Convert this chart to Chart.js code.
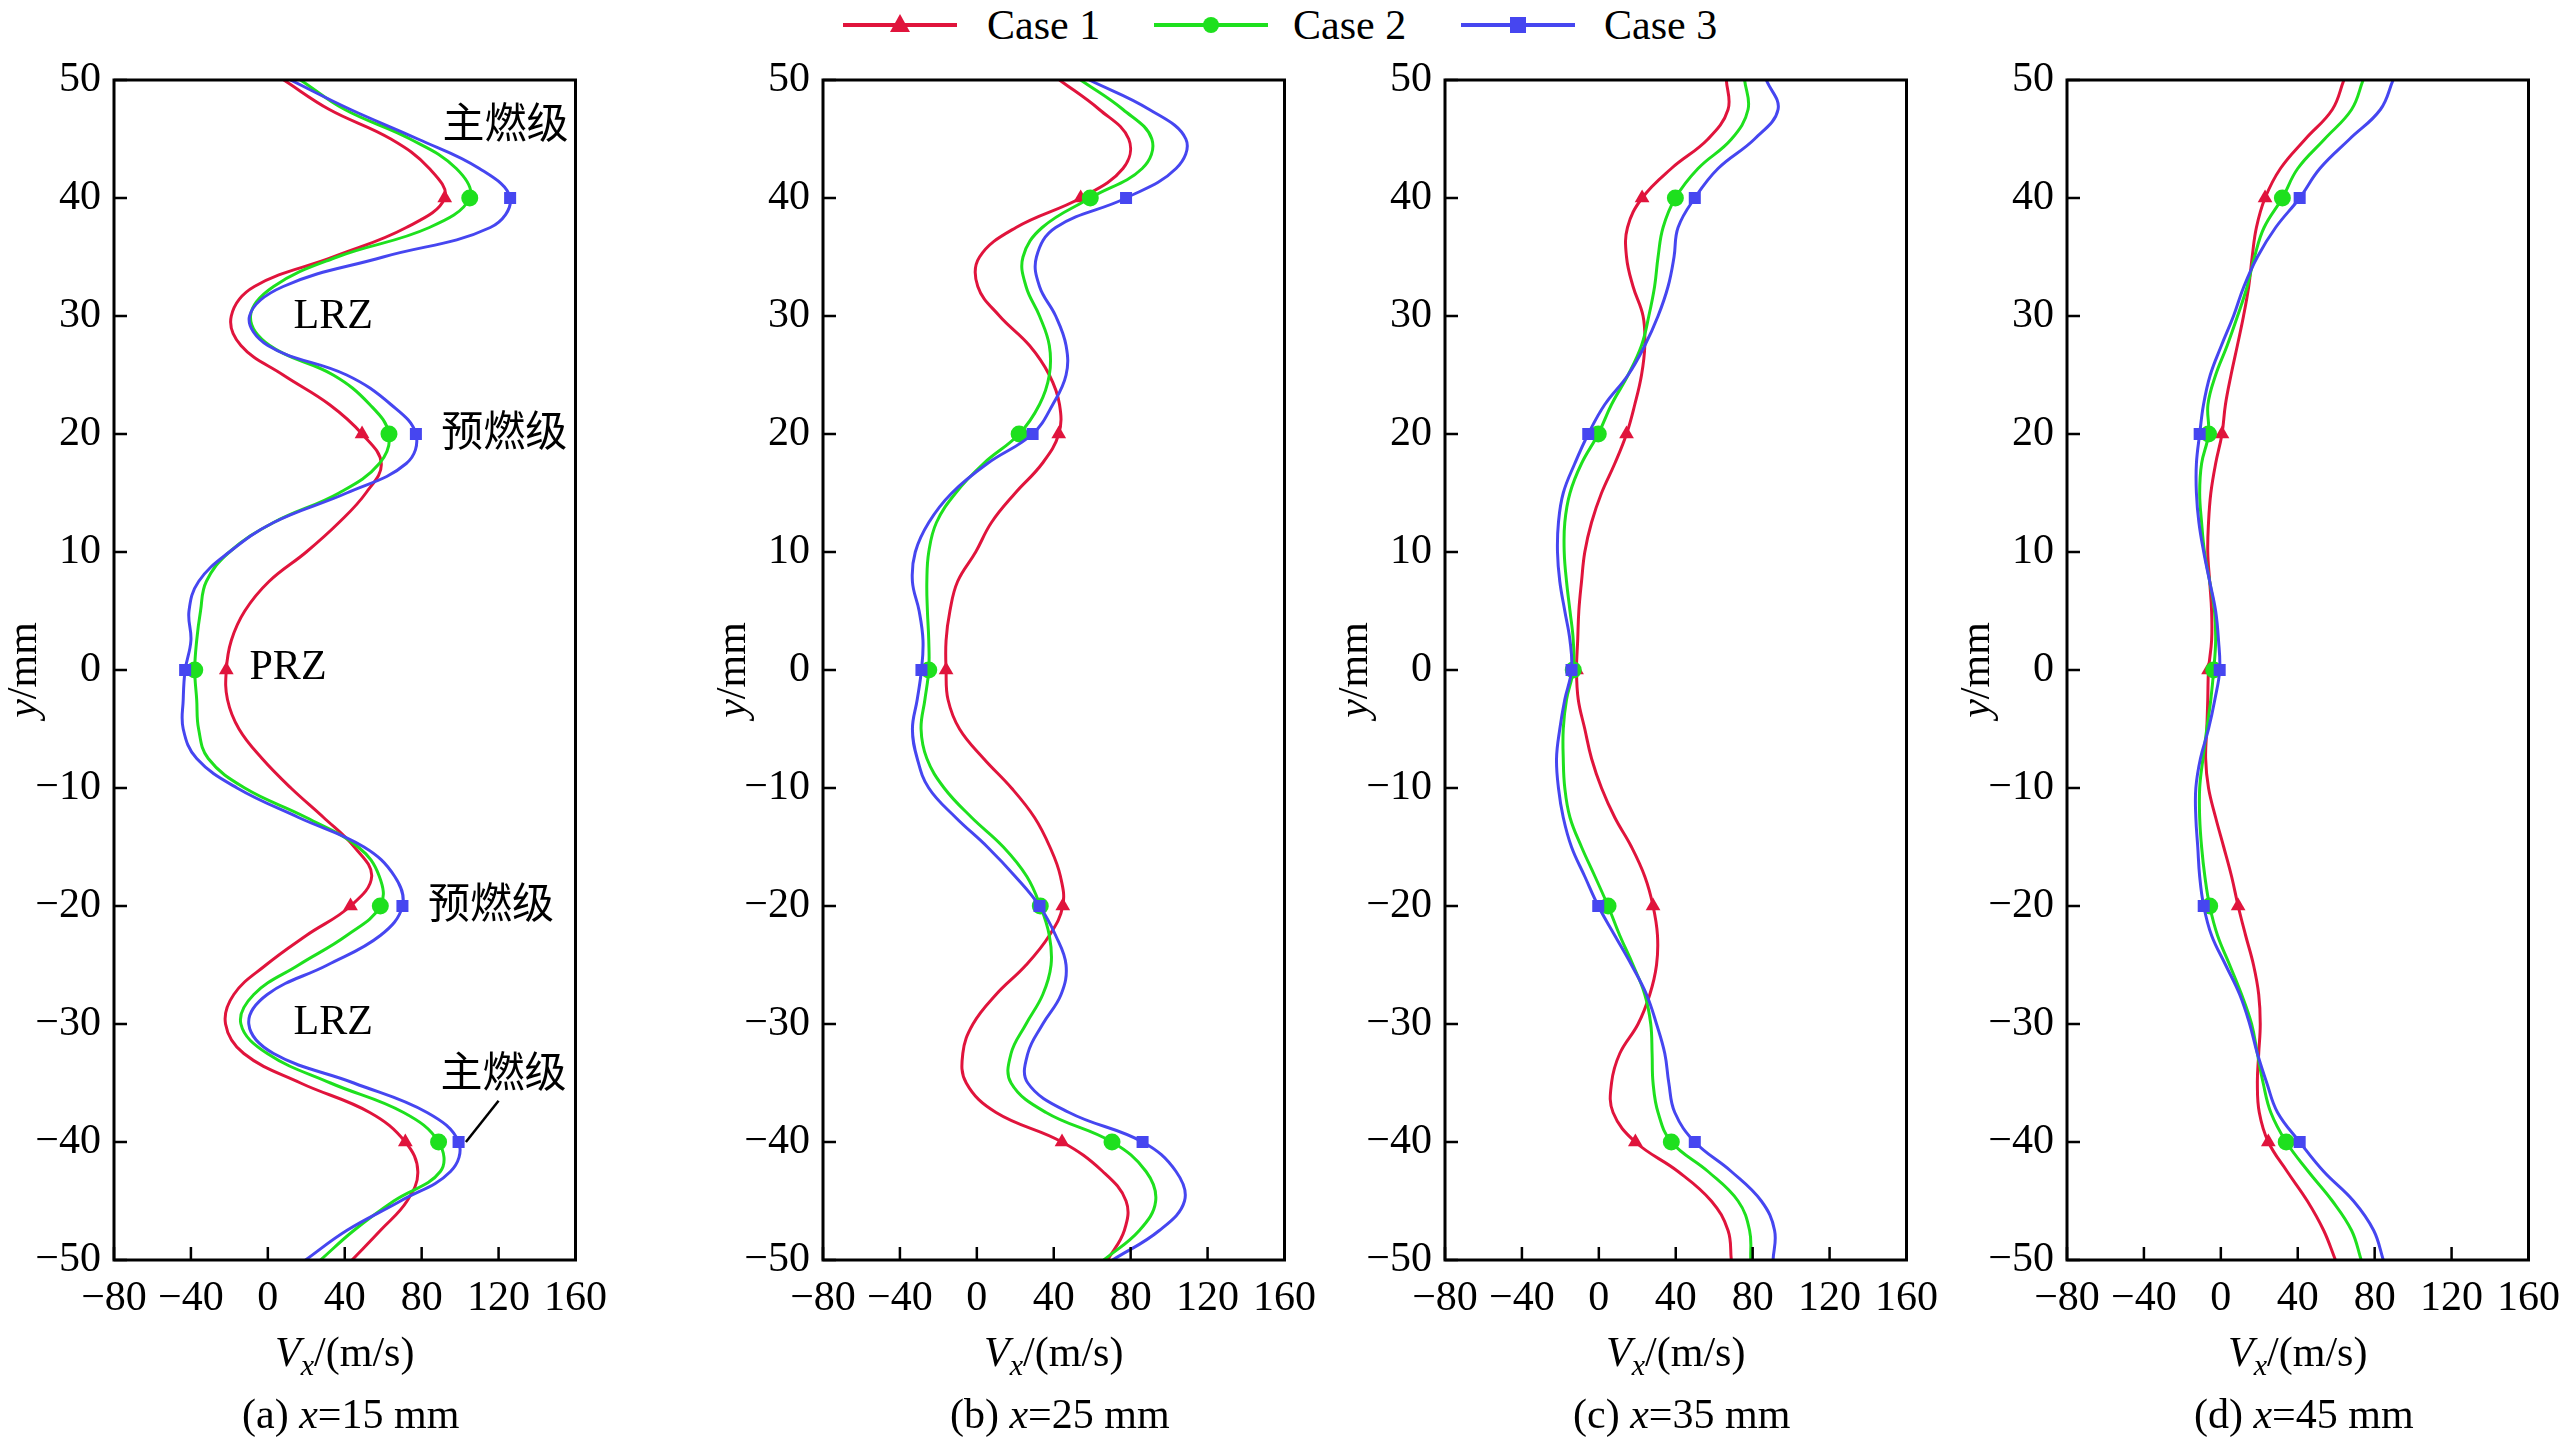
<!DOCTYPE html>
<html>
<head>
<meta charset="utf-8">
<script src="https://cdn.jsdelivr.net/npm/chart.js@4.4.1/dist/chart.umd.min.js"></script>
<style>
  html, body { margin: 0; padding: 0; background: #fff; }
  body { width: 2566px; height: 1448px; position: relative; overflow: hidden;
         font-family: "Liberation Serif", serif; }
  .panel { position: absolute; top: 0; width: 617px; height: 1448px; }
  .lg-line { position: absolute; top: 23px; width: 114px; height: 4px; }
  .lg-mark { position: absolute; }
  .lg-text { position: absolute; top: 2px; font-size: 42px; line-height: 46px; color: #000; }
</style>
</head>
<body>
<div class="lg-line" style="left:843px;background:#e0143c"></div>
<div class="lg-mark" style="left:890px;top:14px;width:20px;height:18px;background:#e0143c;clip-path:polygon(50% 0,100% 100%,0 100%)"></div>
<div class="lg-text" style="left:987px">Case 1</div>
<div class="lg-line" style="left:1154px;background:#1ee01e"></div>
<div class="lg-mark" style="left:1203px;top:17px;width:16px;height:16px;border-radius:50%;background:#1ee01e"></div>
<div class="lg-text" style="left:1293px">Case 2</div>
<div class="lg-line" style="left:1461px;background:#4646f0"></div>
<div class="lg-mark" style="left:1510px;top:17px;width:16px;height:16px;background:#4646f0"></div>
<div class="lg-text" style="left:1604px">Case 3</div>

<div class="panel" style="left:4px"><canvas id="ca"></canvas></div>
<div class="panel" style="left:713px"><canvas id="cb"></canvas></div>
<div class="panel" style="left:1335px"><canvas id="cc"></canvas></div>
<div class="panel" style="left:1957px"><canvas id="cd"></canvas></div>

<script>
// y positions (mm) shared by all profiles
const yPos = [50, 47.5, 45, 42.5, 40, 37.5, 35, 32.5, 30, 27.5, 25, 22.5, 20, 17.5, 15, 12.5, 10, 7.5, 5, 2.5,
  0, -2.5, -5, -7.5, -10, -12.5, -15, -17.5, -20, -22.5, -25, -27.5, -30, -32.5, -35, -37.5, -40, -42.5, -45, -47.5, -50];
const markerY = [40, 20, 0, -20, -40];
const xTicks = [-80, -40, 0, 40, 80, 120, 160];
const yTicks = [50, 40, 30, 20, 10, 0, -10, -20, -30, -40, -50];
const caseNames = ["Case 1", "Case 2", "Case 3"];

// Vx (m/s) at x = 15 mm
const vxA1 = [8.3, 32, 64, 84, 92, 72, 34, -7, -19, -14, 8, 32, 49, 59, 51, 37, 20, 0.6, -12, -19, -21.6, -21, -15, -3, 12, 29, 45, 54, 43, 20, -1, -17.7, -22, -12.5, 17, 53, 71.5, 78, 72.4, 58.5, 43.8];
const vxA2 = [17, 40, 74, 98, 105, 84, 36, 3, -9, 1, 34, 53, 63, 58, 37, 3, -20, -32, -35, -37, -38, -37, -36, -31, -12, 20, 47, 58, 58.5, 41, 16, -7.3, -14, -0.3, 32.6, 70.6, 88.8, 89.7, 65.5, 44.7, 27.4];
const vxA3 = [11.8, 43, 78, 110, 126, 115.7, 60, 8, -9.5, 0, 41, 64, 77, 72, 41, 3, -20, -36, -41, -40, -43, -44, -44, -37, -16, 16, 50, 66, 70, 58.5, 31, -0.3, -9.9, 3, 44.7, 82.8, 99.2, 95, 69, 41, 19.6];
// x = 25 mm
const vxB1 = [43, 63.7, 79, 76, 54, 20.4, 1.4, 0.5, 11.8, 27.4, 37.7, 43, 42.6, 34, 20, 7.6, -0.6, -10, -14, -16, -16, -15, -9, 3.5, 18, 30, 38, 43.5, 44.7, 37.7, 25.6, 10, -2, -7.3, -5.5, 10, 44.3, 65.5, 77.6, 76.7, 68];
const vxB2 = [54, 76, 91, 86, 59, 34, 24, 25.6, 32.6, 37.7, 37.7, 32.6, 22, 3.5, -11, -21, -25, -26, -25.7, -25, -25, -27, -29, -26, -17, -2.7, 13.8, 26, 33, 37.7, 38.6, 34.3, 25.6, 17.8, 17.8, 36, 70.3, 88, 93, 84.5, 66];
const vxB3 = [58.5, 89.7, 108.7, 103.6, 77.6, 41, 31, 32.6, 41, 46.4, 46.4, 39.5, 29, 5.5, -13, -25, -32, -33.5, -30, -28, -28.8, -31, -33.5, -31, -25, -11, 5.5, 20, 32.6, 41, 46.4, 43.8, 34.3, 26.5, 26.5, 48, 86.2, 103.6, 108, 94.9, 70.6];
// x = 35 mm
const vxC1 = [66.3, 67.2, 56.8, 37.7, 22.5, 14.9, 14.4, 17.8, 23, 23.9, 22.2, 18.7, 14.4, 8.3, 1.4, -3.8, -7.3, -9, -10.4, -11, -11.6, -10.7, -7.3, -3.8, 1.4, 8.3, 17, 23.9, 28.2, 30.5, 30, 26.5, 20.4, 10.9, 6.6, 7.4, 19, 41.2, 58.5, 67.2, 68.9];
const vxC2 = [75.8, 77.6, 69, 51.6, 39.8, 33.4, 30.8, 29, 26, 22.2, 15.2, 6.6, -0.3, -9, -15, -17.7, -18, -16.8, -15, -13.3, -13.3, -16.8, -18.5, -18.5, -17.7, -15, -9, -2, 4.8, 10.9, 17.8, 23.9, 27, 27.7, 28.2, 30.8, 37.7, 56.8, 72.4, 78.4, 79];
const vxC3 = [87.1, 93.2, 81, 62, 49.9, 41.2, 39.1, 36, 30.8, 23.9, 15.2, 3.1, -5.5, -12.5, -18.5, -21, -21.5, -20.3, -17.7, -15, -14.2, -17.7, -20.3, -22, -21, -18.5, -14.2, -7.3, -0.3, 8.3, 17, 24.8, 30, 34.3, 36.4, 39.5, 49.9, 68.9, 84.5, 91.4, 90.6];
// x = 45 mm
const vxD1 = [64, 58, 44, 31, 23, 18.5, 16.3, 14.5, 11.8, 8.6, 5.3, 2.4, 0.6, -2.7, -5.2, -6.4, -6.8, -5.8, -4.8, -4.8, -6.4, -6.8, -7.3, -7.9, -6.4, -2.7, 1.5, 5.6, 9, 12.9, 17, 19.7, 20.5, 19.7, 19, 20, 24.7, 34.5, 45, 53.5, 59.6];
const vxD2 = [74, 68, 54, 40, 32, 22.5, 17.5, 13.7, 8.7, 3.3, -2.7, -6.7, -6.4, -10, -11, -10, -8.5, -5.8, -3.3, -2.7, -3.7, -5.2, -7.3, -9.3, -11, -11, -10, -8.3, -5.8, -1.7, 4.6, 10.8, 16, 19, 22, 26, 34, 45.5, 58, 68, 73];
const vxD3 = [89.6, 83, 67, 51.5, 41, 28.5, 19, 12, 6.6, 0.3, -5.5, -9, -11, -12.7, -12.7, -11.4, -8.9, -5.8, -2.7, -1.2, -0.6, -3.1, -6.4, -10.6, -13, -13, -12, -11, -8.9, -4.8, 2.5, 9.8, 15, 19, 23.9, 29.5, 41, 53.5, 69, 79.5, 84.5];

const colors = ["#e0143c", "#1ee01e", "#4646f0"];
const styles = ["triangle", "circle", "rect"];
const SERIF = "'Liberation Serif', serif";
const CJK = "'Noto Sans CJK SC', sans-serif";
Chart.defaults.font.family = SERIF;

function minus(v) { return String(v).replace("-", "\u2212"); }

// draws text pieces [style, text, size, dy] centred on cx
function drawRuns(ctx, runs, cx, y) {
  let total = 0;
  runs.forEach(r => { ctx.font = `${r[0]} ${r[2]}px ${SERIF}`; total += ctx.measureText(r[1]).width; });
  let x = cx - total / 2;
  ctx.textAlign = "left";
  ctx.textBaseline = "alphabetic";
  runs.forEach(r => {
    ctx.font = `${r[0]} ${r[2]}px ${SERIF}`;
    ctx.fillText(r[1], x, y + r[3]);
    x += ctx.measureText(r[1]).width;
  });
}

const notesA = [
  { t: "主燃级", x: 123.6, y: 46.4, cjk: true },
  { t: "LRZ", x: 34, y: 29.9 },
  { t: "预燃级", x: 123, y: 20.3, cjk: true },
  { t: "PRZ", x: 10.5, y: 0.2 },
  { t: "预燃级", x: 116, y: -19.7, cjk: true },
  { t: "LRZ", x: 34, y: -29.9 },
  { t: "主燃级", x: 122.6, y: -34, cjk: true }
];
const leaderA = [[120, -36.5], [103, -40]];

function framePlugin(label, notes, leader) {
  return {
    id: "frame",
    afterDraw(chart) {
      const { ctx, chartArea: a, scales: { x, y } } = chart;
      ctx.save();
      ctx.strokeStyle = "#000";
      ctx.fillStyle = "#000";
      ctx.lineWidth = 3;
      ctx.strokeRect(a.left, a.top, a.right - a.left, a.bottom - a.top);
      ctx.lineWidth = 2.5;
      ctx.beginPath();
      yTicks.forEach(v => { const p = y.getPixelForValue(v); ctx.moveTo(a.left, p); ctx.lineTo(a.left + 13, p); });
      xTicks.forEach(v => { const p = x.getPixelForValue(v); ctx.moveTo(p, a.bottom); ctx.lineTo(p, a.bottom - 13); });
      ctx.stroke();

      const cx = (a.left + a.right) / 2;
      drawRuns(ctx, [["italic", "V", 42, 0], ["italic", "x", 30, 9], ["normal", "/(m/s)", 42, 0]], cx, 1366);
      drawRuns(ctx, [["normal", label[0], 42, 0], ["italic", "x", 42, 0], ["normal", label[1], 42, 0]], cx + 6, 1428);

      ctx.save();
      ctx.translate(a.left - 78, (a.top + a.bottom) / 2);
      ctx.rotate(-Math.PI / 2);
      drawRuns(ctx, [["italic", "y", 42, 0], ["normal", "/mm", 42, 0]], 0, 0);
      ctx.restore();

      ctx.textAlign = "center";
      ctx.textBaseline = "middle";
      notes.forEach(n => {
        ctx.font = n.cjk ? `42px ${CJK}` : `42px ${SERIF}`;
        ctx.fillText(n.t, x.getPixelForValue(n.x), y.getPixelForValue(n.y));
      });
      if (leader) {
        ctx.lineWidth = 2.5;
        ctx.beginPath();
        ctx.moveTo(x.getPixelForValue(leader[0][0]), y.getPixelForValue(leader[0][1]));
        ctx.lineTo(x.getPixelForValue(leader[1][0]), y.getPixelForValue(leader[1][1]));
        ctx.stroke();
      }
      ctx.restore();
    }
  };
}

function makePanel(id, series, label, notes, leader) {
  const datasets = series.map((vx, k) => ({
    label: caseNames[k],
    data: yPos.map((yy, i) => ({ x: vx[i], y: yy })),
    borderColor: colors[k],
    backgroundColor: colors[k],
    borderWidth: 3,
    tension: 0.4,
    pointStyle: styles[k],
    pointRadius: c => markerY.includes(yPos[c.dataIndex]) ? 8.5 : 0,
    pointBorderWidth: 0,
    order: 3 - k
  }));
  new Chart(document.getElementById(id), {
    type: "line",
    data: { datasets },
    options: {
      responsive: true,
      maintainAspectRatio: false,
      animation: false,
      devicePixelRatio: 1,
      layout: { padding: { top: 80, right: 45, left: 0, bottom: 0 } },
      plugins: { legend: { display: false }, tooltip: { enabled: false } },
      scales: {
        x: {
          type: "linear", min: -80, max: 160,
          afterFit: s => { s.height = 188; },
          grid: { display: false, drawTicks: false },
          border: { display: false },
          ticks: { stepSize: 40, padding: 14, color: "#000", maxRotation: 0, autoSkip: false,
                   font: { family: SERIF, size: 42 }, callback: minus }
        },
        y: {
          type: "linear", min: -50, max: 50,
          afterFit: s => { s.width = 110; },
          grid: { display: false, drawTicks: false },
          border: { display: false },
          ticks: { stepSize: 10, padding: 13, color: "#000", autoSkip: false,
                   font: { family: SERIF, size: 42 }, callback: minus }
        }
      }
    },
    plugins: [framePlugin(label, notes, leader)]
  });
}

makePanel("ca", [vxA1, vxA2, vxA3], ["(a) ", "=15 mm"], notesA, leaderA);
makePanel("cb", [vxB1, vxB2, vxB3], ["(b) ", "=25 mm"], [], null);
makePanel("cc", [vxC1, vxC2, vxC3], ["(c) ", "=35 mm"], [], null);
makePanel("cd", [vxD1, vxD2, vxD3], ["(d) ", "=45 mm"], [], null);
</script>
</body>
</html>
